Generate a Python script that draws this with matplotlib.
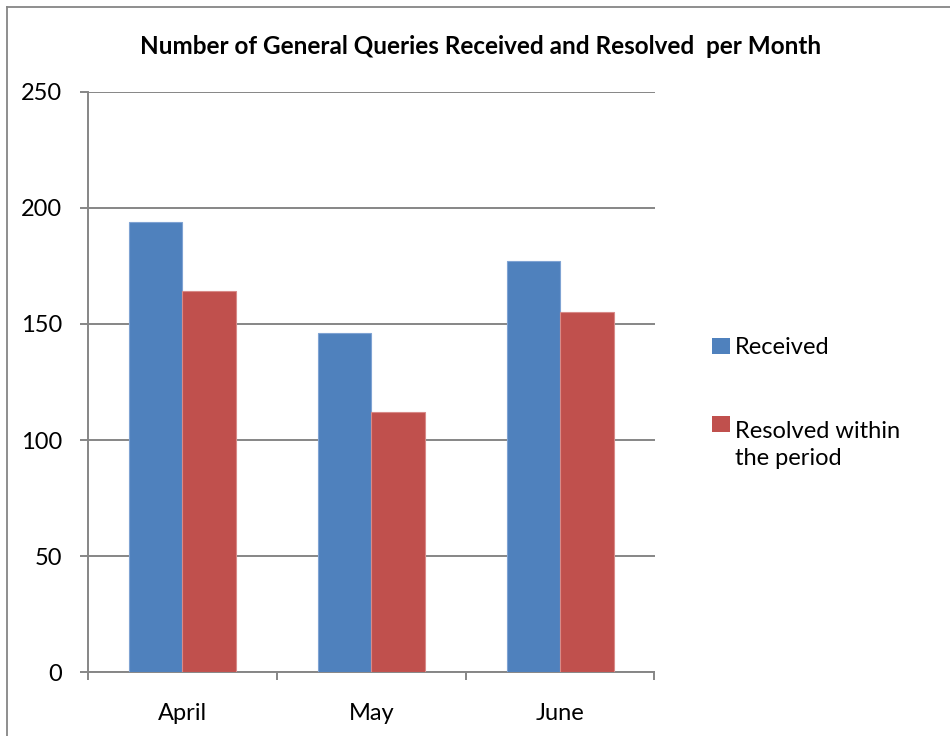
import matplotlib
matplotlib.use("Agg")
import matplotlib.pyplot as plt
from matplotlib.patches import Rectangle
from matplotlib.lines import Line2D
import numpy as np

months = ["April", "May", "June"]
series_names = ["Received", "Resolved within\nthe period"]
received = [194, 146, 177]
resolved = [164, 112, 155]
yticks = [0, 50, 100, 150, 200, 250]

colors = ["#4F81BD", "#C0504D"]
edge_colors = ["#7FA3D3", "#D88A88"]
grid_c = "#868686"

plt.rcParams['font.family'] = ['Lato', 'DejaVu Sans']

W, H = 950, 736
fig = plt.figure(figsize=(W / 100, H / 100), dpi=100)

# plot area in pixels
left, right, top, bottom = 88, 654.5, 91.7, 672.3
ax = fig.add_axes([left / W, 1 - bottom / H, (right - left) / W, (bottom - top) / H])

x = np.arange(len(months))
bw = 0.283
for i, (vals, c, ec) in enumerate(zip([received, resolved], colors, edge_colors)):
    ax.bar(x + (i - 0.5) * bw, vals, width=bw, color=c, edgecolor=ec, linewidth=0.8, zorder=3)

ax.set_xlim(-0.5, len(months) - 0.5)
ax.set_ylim(0, 250)
ax.set_yticks(yticks)
ax.set_yticklabels([str(v) for v in yticks])
ax.yaxis.grid(True, color=grid_c, linewidth=1.4, zorder=0)
ax.set_axisbelow(True)

# x ticks at category boundaries, labels at category centres
ax.set_xticks(np.arange(-0.5, len(months), 1.0))
ax.set_xticklabels([])
ax.set_xticks(x, minor=True)
ax.set_xticklabels(months, minor=True)
ax.tick_params(axis='x', which='major', length=5.8, width=1.4, color=grid_c, direction='out')
ax.tick_params(axis='x', which='minor', length=0, pad=22, labelsize=17, labelcolor='black')
ax.tick_params(axis='y', length=5.8, width=1.4, color=grid_c, direction='out', pad=13,
               labelsize=17, labelcolor='black')

for s in ['top', 'right']:
    ax.spines[s].set_visible(False)
for s in ['left', 'bottom']:
    ax.spines[s].set_color(grid_c)
    ax.spines[s].set_linewidth(1.4)

# Title
fig.text(481 / W, 1 - 46 / H, "Number of General Queries Received and Resolved  per Month",
         ha='center', va='center', fontsize=17.5, fontweight='bold', color='black')

# Legend (manual, matching Excel layout)
leg_fs = 17
line_px = 32.3
leg_y = [346, 424]
for name, c, yc in zip(series_names, colors, leg_y):
    fig.patches.append(Rectangle((712 / W, 1 - (yc + 8) / H), 18 / W, 16 / H,
                                 transform=fig.transFigure, facecolor=c, edgecolor='none'))
    nlines = name.count("\n") + 1
    base = yc + 8.5 + (nlines - 1) * line_px
    fig.text(735 / W, 1 - base / H, name, ha='left', va='baseline', fontsize=leg_fs,
             color='black', linespacing=line_px / (leg_fs * 100 / 72))

# chart-area border (top and left visible)
fig.add_artist(Line2D([7 / W, 7 / W], [0, 1 - 7 / H], transform=fig.transFigure,
                      color=grid_c, linewidth=1.3))
fig.add_artist(Line2D([7 / W, 1], [1 - 7 / H, 1 - 7 / H], transform=fig.transFigure,
                      color=grid_c, linewidth=1.3))

fig.savefig("out.png", dpi=100)
